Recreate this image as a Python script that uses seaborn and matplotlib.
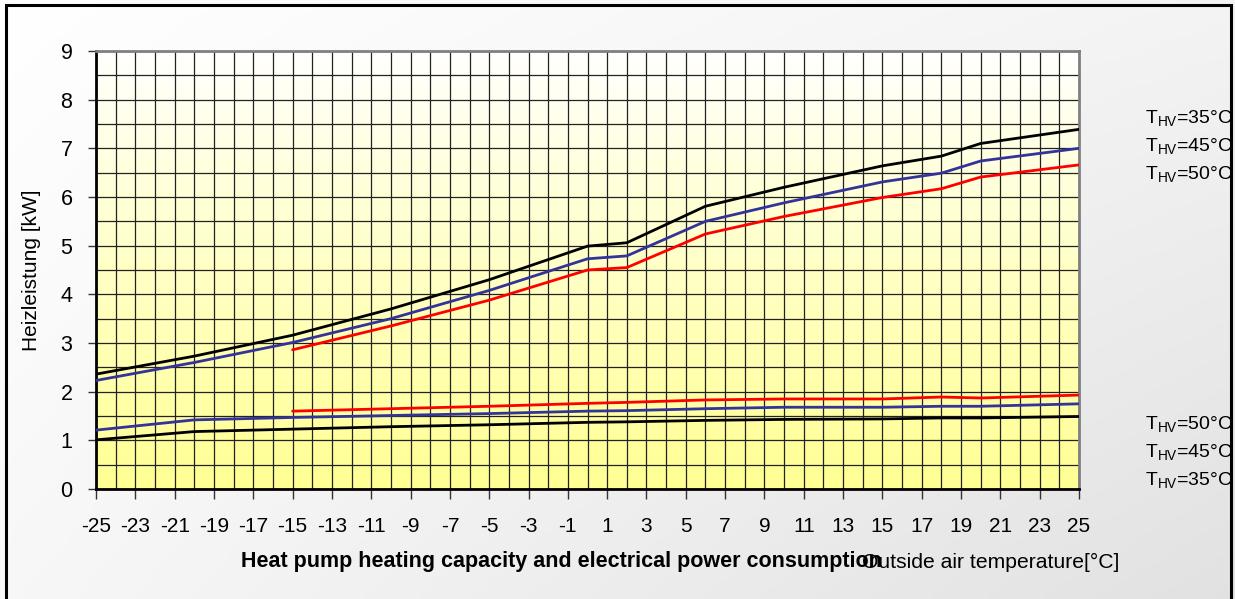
import numpy as np
import pandas as pd
import matplotlib
matplotlib.use("Agg")
import matplotlib.pyplot as plt
import seaborn as sns

# Outside air temperature [°C]
temps = [-25, -20, -15, -10, -5, 0, 2, 6, 10, 15, 18, 20, 25]
temps_50 = [-15, -10, -5, 0, 2, 6, 10, 15, 18, 20, 25]

# Heating capacity [kW] per flow temperature
heat_35 = [2.36, 2.73, 3.16, 3.70, 4.30, 4.99, 5.06, 5.81, 6.20, 6.64, 6.84, 7.10, 7.39]
heat_45 = [2.23, 2.60, 3.01, 3.50, 4.08, 4.73, 4.79, 5.50, 5.88, 6.31, 6.49, 6.74, 7.00]
heat_50 = [2.86, 3.35, 3.88, 4.50, 4.55, 5.24, 5.60, 5.99, 6.17, 6.41, 6.66]

# Electrical power consumption [kW] per flow temperature
power_35 = [1.01, 1.18, 1.23, 1.28, 1.32, 1.37, 1.38, 1.41, 1.43, 1.44, 1.46, 1.46, 1.49]
power_45 = [1.21, 1.42, 1.47, 1.51, 1.55, 1.60, 1.61, 1.65, 1.68, 1.68, 1.70, 1.70, 1.75]
power_50 = [1.60, 1.65, 1.70, 1.76, 1.78, 1.83, 1.85, 1.85, 1.89, 1.87, 1.93]

x_ticks = list(range(-25, 26, 2))
y_ticks = list(range(0, 10))
labels_top = ["35", "45", "50"]
labels_bottom = ["50", "45", "35"]

frames = []
for name, xs, ys in [
    ("heat_35", temps, heat_35), ("heat_45", temps, heat_45), ("heat_50", temps_50, heat_50),
    ("power_35", temps, power_35), ("power_45", temps, power_45), ("power_50", temps_50, power_50),
]:
    frames.append(pd.DataFrame({"temp": xs, "kw": ys, "series": name}))
df = pd.concat(frames, ignore_index=True)

palette = {
    "heat_35": "#000000", "heat_45": "#333399", "heat_50": "#ff0000",
    "power_35": "#000000", "power_45": "#333399", "power_50": "#ff0000",
}

sns.set_theme(style="white")
plt.rcParams["font.family"] = ["Liberation Sans", "DejaVu Sans"]
plt.rcParams["mathtext.fontset"] = "custom"
plt.rcParams["mathtext.rm"] = "Liberation Sans"
plt.rcParams["mathtext.default"] = "regular"
plt.rcParams["text.color"] = "black"
plt.rcParams["axes.labelcolor"] = "black"
plt.rcParams["xtick.color"] = "black"
plt.rcParams["ytick.color"] = "black"

W, H = 1235, 599
fig = plt.figure(figsize=(W / 100, H / 100), dpi=100)

# Figure background: soft grey diagonal gradient
bg = fig.add_axes([0, 0, 1, 1], zorder=0)
gx, gy = np.meshgrid(np.linspace(0, 1, 200), np.linspace(0, 1, 100))
shade = 1.0 - 0.075 * (0.6 * gx + 0.4 * gy) - 0.04 * gx * gy
bg.imshow(np.dstack([shade] * 3), extent=[0, 1, 0, 1], aspect="auto", origin="upper")
bg.set_xlim(0, 1)
bg.set_ylim(0, 1)
bg.axis("off")
# Outer frame
bg.add_patch(plt.Rectangle((6 / W, -0.01), (1231 - 6) / W, 1 - 5 / H + 0.01,
                           fill=False, ec="black", lw=2.2, transform=bg.transAxes, clip_on=False))

left, right = 96 / W, 1079 / W
bottom, top = 1 - 489 / H, 1 - 51 / H
ax = fig.add_axes([left, bottom, right - left, top - bottom], zorder=1)

# Plot area: white-to-yellow vertical gradient
grad = np.linspace(0, 1, 256)[:, None]
col = np.dstack([np.ones_like(grad), np.ones_like(grad), 1.0 - 0.42 * grad ** 0.9])
ax.imshow(col, extent=[-25, 25, 0, 9], aspect="auto", origin="upper", zorder=0)

# Grid: 1 °C by 0.5 kW
for xv in range(-25, 26):
    ax.axvline(xv, color="#222222", lw=0.9, zorder=1)
for yv in np.arange(0, 9.01, 0.5):
    ax.axhline(yv, color="#222222", lw=0.9, zorder=1)

sns.lineplot(data=df, x="temp", y="kw", hue="series", units="series", estimator=None,
             palette=palette, linewidth=2.0, legend=False, ax=ax, zorder=3, sort=False)

ax.set_xlim(-25, 25)
ax.set_ylim(0, 9)
ax.set_xticks(x_ticks)
ax.set_xticklabels([str(v) for v in x_ticks], fontsize=15)
ax.set_yticks(y_ticks)
ax.set_yticklabels([str(v) for v in y_ticks], fontsize=15.5)
ax.tick_params(axis="x", direction="out", length=7, width=1, color="#333333", pad=13.5)
ax.tick_params(axis="y", direction="out", length=6, width=1, color="#333333", pad=11)
ax.tick_params(bottom=True, left=True)
ax.set_xlabel("")
ax.set_ylabel("Heizleistung [kW]", fontsize=15, labelpad=14)

for side in ["left", "bottom"]:
    ax.spines[side].set_color("black")
    ax.spines[side].set_linewidth(2.0)
for side in ["top", "right"]:
    ax.spines[side].set_color("#808080")
    ax.spines[side].set_linewidth(2.0)
ax.spines["top"].set_zorder(4)

# Series labels on the right
label_x = 1145 / W
for t, yp in zip(labels_top, [118, 146, 174]):
    fig.text(label_x, 1 - yp / H, r"T$_{HV}$=" + t + "°C", fontsize=14, va="center",
             ha="left", zorder=5)
for t, yp in zip(labels_bottom, [424, 452, 480]):
    fig.text(label_x, 1 - yp / H, r"T$_{HV}$=" + t + "°C", fontsize=14, va="center",
             ha="left", zorder=5)

# Bottom captions
fig.text(241 / W, 1 - 562 / H, "Heat pump heating capacity and electrical power consumption",
         fontsize=15.5, fontweight="bold", va="center", ha="left", zorder=5)
fig.text(862 / W, 1 - 562 / H, "Outside air temperature[°C]", fontsize=15.2,
         va="center", ha="left", zorder=5)

fig.savefig("out.png", dpi=100)
